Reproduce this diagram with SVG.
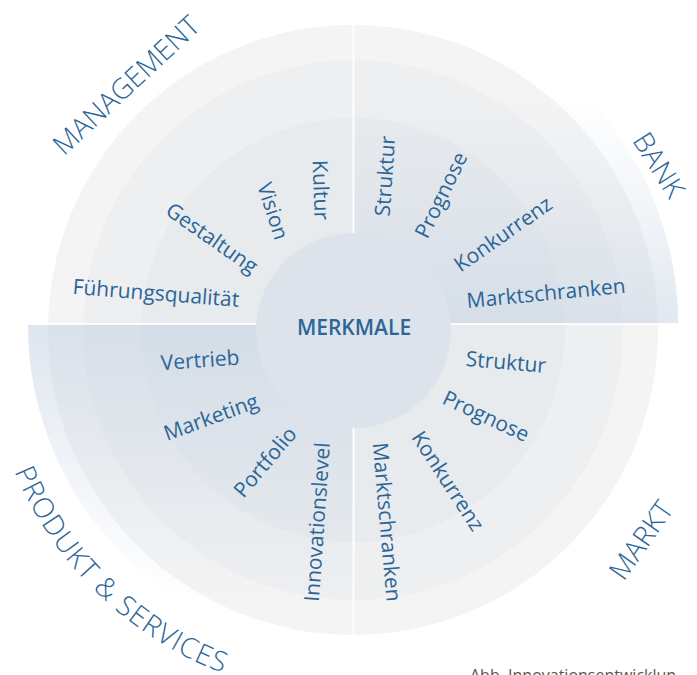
<svg xmlns="http://www.w3.org/2000/svg" width="697" height="675" viewBox="0 0 697 675">
  <defs>
    <linearGradient id="bankFade" gradientUnits="userSpaceOnUse" x1="0" y1="-2" x2="0" y2="323">
      <stop offset="0" stop-color="#c3d1e1" stop-opacity="0"/>
      <stop offset="0.3" stop-color="#c3d1e1" stop-opacity="0"/>
      <stop offset="0.65" stop-color="#c3d1e1" stop-opacity="0.22"/>
      <stop offset="1" stop-color="#c3d1e1" stop-opacity="0.5"/>
    </linearGradient>
    <linearGradient id="productFade" gradientUnits="userSpaceOnUse" x1="0" y1="325" x2="0" y2="650">
      <stop offset="0" stop-color="#c3d1e1" stop-opacity="0.55"/>
      <stop offset="0.5" stop-color="#c3d1e1" stop-opacity="0.2"/>
      <stop offset="0.85" stop-color="#c3d1e1" stop-opacity="0"/>
    </linearGradient>
    <!-- arc around the centre (353,330), r=367, from 174deg to 94deg -->
    <path id="productArc" d="M -12 368.4 A 367 367 0 0 0 327.4 696.1"/>
    <style>
      text { font-family: "Open Sans", "Liberation Sans", sans-serif; fill: #2c6597; }
      .item { font-size: 21px; text-anchor: middle; }
      .area { font-size: 28px; font-weight: 300; text-anchor: middle; }
      .curved { letter-spacing: 1.1px; }
      .core { font-size: 21px; font-weight: 600; text-anchor: middle; }
      .caption { font-size: 16px; fill: #555; }
      .divider { stroke: #ffffff; fill: none; }
    </style>
  </defs>

  <rect width="697" height="675" fill="#ffffff"/>

  <!-- concentric background rings -->
  <g id="rings">
    <circle cx="353" cy="330" r="305" fill="#f4f4f4"/>
    <circle cx="353" cy="330" r="270" fill="#eeeff1"/>
    <circle cx="353" cy="330" r="212" fill="#e8ebee"/>
  </g>

  <!-- tinted quarter sectors -->
  <path id="sector-bank" d="M 353 323 V -2 A 325 325 0 0 1 678 323 Z" fill="url(#bankFade)"/>
  <path id="sector-product" d="M 353 325 H 28 A 325 325 0 0 0 353 650 Z" fill="url(#productFade)"/>

  <!-- quadrant dividers -->
  <g id="connectors">
    <line class="divider" x1="353.5" y1="25" x2="353.5" y2="635" stroke-width="2" stroke-opacity="0.9"/>
    <line class="divider" x1="28" y1="324" x2="678" y2="324" stroke-width="2" stroke-opacity="0.8"/>
  </g>

  <!-- centre node -->
  <g id="node-merkmale">
    <circle cx="353.5" cy="330.5" r="97.5" fill="#dce3eb"/>
    <text class="core" x="354" y="335">MERKMALE</text>
  </g>

  <g id="node-management">
    <text class="area" transform="translate(126 85) rotate(-43)" dy="10">MANAGEMENT</text>
    <text class="item" transform="translate(156 293) rotate(4.5)" dy="7.4">Führungsqualität</text>
    <text class="item" transform="translate(212 238) rotate(35)" dy="7.4">Gestaltung</text>
    <text class="item" transform="translate(273 211) rotate(72)" dy="7.4">Vision</text>
    <text class="item" transform="translate(321 190) rotate(88)" dy="7.4">Kultur</text>
  </g>

  <g id="node-bank">
    <text class="area" transform="translate(659 165) rotate(58)" dy="10">BANK</text>
    <text class="item" transform="translate(385 176) rotate(-86)" dy="7.4">Struktur</text>
    <text class="item" transform="translate(441 195) rotate(-64)" dy="7.4">Prognose</text>
    <text class="item" transform="translate(503 234) rotate(-35)" dy="7.4">Konkurrenz</text>
    <text class="item" transform="translate(546 293) rotate(-5.5)" dy="7.4">Marktschranken</text>
  </g>

  <g id="node-markt">
    <text class="area" transform="translate(641 540) rotate(-55)" dy="10">MARKT</text>
    <text class="item" transform="translate(506 362) rotate(5)" dy="7.4">Struktur</text>
    <text class="item" transform="translate(486 416) rotate(25)" dy="7.4">Prognose</text>
    <text class="item" transform="translate(448 481) rotate(57)" dy="7.4">Konkurrenz</text>
    <text class="item" transform="translate(387 522) rotate(85)" dy="7.4">Marktschranken</text>
  </g>

  <g id="node-produkt">
    <text class="area curved"><textPath href="#productArc" startOffset="50%">PRODUKT &amp; SERVICES</textPath></text>
    <text class="item" transform="translate(200 360) rotate(-4)" dy="7.4">Vertrieb</text>
    <text class="item" transform="translate(211 417) rotate(-20)" dy="7.4">Marketing</text>
    <text class="item" transform="translate(265 462) rotate(-50)" dy="7.4">Portfolio</text>
    <text class="item" transform="translate(317 522) rotate(-86)" dy="7.4">Innovationslevel</text>
  </g>

  <text class="caption" x="470" y="681">Abb. Innovationsentwicklun</text>
</svg>
